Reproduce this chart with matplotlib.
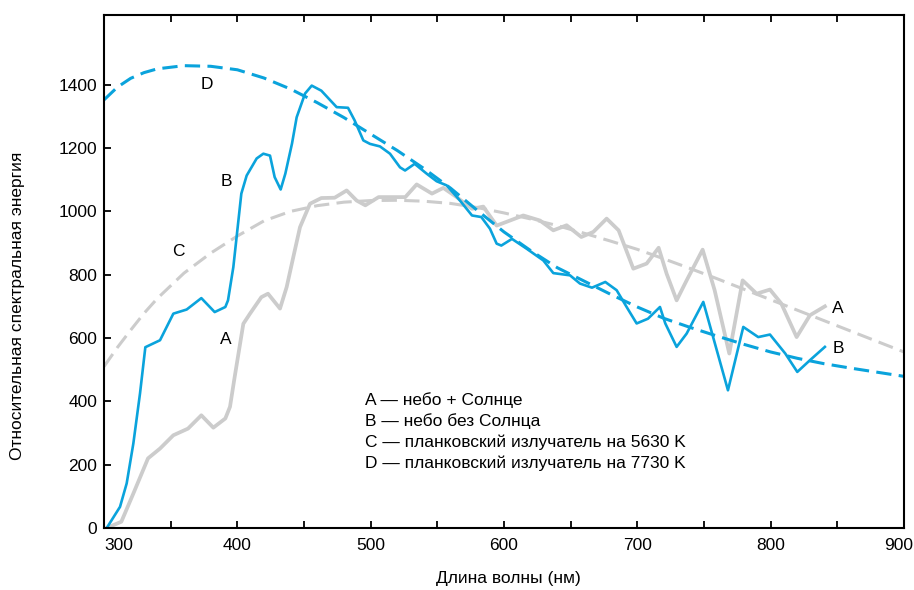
import numpy as np
import matplotlib as mpl
import matplotlib.pyplot as plt
from matplotlib.transforms import ScaledTranslation

mpl.rcParams['font.family'] = ['Liberation Sans', 'DejaVu Sans']
mpl.rcParams['font.size'] = 12.5

BLUE = '#0aa3dc'
GREY = '#cccccc'

# A - sky + Sun
a_x = [302, 313, 322, 333, 342, 352, 363, 373, 382, 391, 394.5, 398, 404.5, 409.5, 418, 423,
       432, 437, 442, 447, 454.5, 463, 473, 482, 489.5, 496, 506, 516, 526, 534.5, 546, 554.5,
       564.5, 576, 584.5, 594.5, 604.5, 614.5, 627, 637, 647, 658, 667, 677, 686, 697, 707,
       716, 722, 729.5, 737, 749, 758, 769, 779, 789.5, 799.5, 808, 819.5, 829.5, 840.7]
a_y = [0, 20, 109, 220, 251, 293, 314, 356, 317, 346, 383, 477, 645, 677, 729, 740,
       693, 761, 856, 950, 1024, 1042, 1043, 1066, 1034, 1019, 1045, 1045, 1045, 1085, 1056, 1074,
       1045, 1008, 1015, 955, 971, 987, 971, 940, 956, 919, 935, 977, 940, 819, 835,
       885, 803, 719, 782, 879, 751, 551, 782, 740, 753, 709, 603, 672, 700]

# B - sky without Sun
b_x = [302, 312, 317, 322, 327, 331, 342, 352, 362, 373, 383, 391, 393, 397, 400, 403, 407,
       414.5, 419.5, 424.5, 428, 432.5, 436, 441, 444.5, 450.8, 455.8, 463, 474.5, 483, 488,
       494.5, 499.5, 507, 514.5, 522, 525.8, 533, 542, 549.5, 557, 567, 576, 583, 589.5, 594.5,
       598, 606, 617, 629.5, 637, 649.5, 657, 666, 676, 684.5, 692, 699.5, 708, 717, 721,
       729.5, 737, 749.5, 768, 779.5, 790.7, 799.5, 811, 820, 829.5, 840.7]
b_y = [0, 67, 141, 267, 425, 571, 593, 677, 690, 726, 682, 698, 719, 824, 940, 1056, 1113,
       1167, 1182, 1176, 1108, 1069, 1119, 1214, 1297, 1372, 1397, 1381, 1329, 1327, 1287,
       1224, 1213, 1205, 1182, 1139, 1129, 1150, 1119, 1095, 1082, 1034, 987, 982, 945, 898,
       892, 913, 882, 845, 805, 798, 772, 759, 777, 751, 698, 646, 661, 698, 646,
       572, 614, 714, 435, 635, 603, 611, 551, 493, 530, 572]

# C, D - Planck radiators
pl_x = [300, 310, 320, 330, 340, 360, 380, 400, 420, 440, 460, 480, 500, 520, 540, 560, 580, 600,
        620, 640, 660, 680, 700, 720, 740, 760, 780, 800, 820, 840, 860, 880, 900]
c_y = [510, 570, 625, 678, 725, 805, 868, 922, 970, 1000, 1018, 1029, 1034, 1035, 1032, 1025, 1012, 995,
       976, 955, 931, 906, 880, 850, 819, 787, 754, 721, 688, 655, 622, 589, 556]
d_y = [1352, 1392, 1420, 1438, 1450, 1460, 1458, 1447, 1421, 1386, 1343, 1296, 1244, 1192, 1135, 1073, 1003, 935,
       876, 822, 780, 738, 698, 662, 633, 606, 580, 556, 536, 519, 505, 492, 479]

legend_lines = ['A — небо + Солнце',
                'B — небо без Солнца',
                'C — планковский излучатель на 5630 K',
                'D — планковский излучатель на 7730 K']

fig = plt.figure(figsize=(9.14, 5.9), dpi=100)
ax = fig.add_axes([0.1138, 0.105, 0.8752, 0.8696])

ax.plot(pl_x, c_y, color=GREY, lw=2.2, dashes=(5, 2.4))
ax.plot(a_x, a_y, color=GREY, lw=2.7, solid_joinstyle='round')
ax.plot(pl_x, d_y, color=BLUE, lw=2.2, dashes=(5, 2.4))
ax.plot(b_x, b_y, color=BLUE, lw=1.9, solid_joinstyle='round')

ax.set_xlim(300, 900)
ax.set_ylim(0, 1620)
ax.set_xticks(np.arange(300, 901, 100))
ax.set_xticks(np.arange(350, 900, 100), minor=True)
ax.set_yticks(np.arange(0, 1401, 200))

ax.tick_params(which='both', direction='in', length=5, width=1.3, top=True,
               right=False, pad=7)
ax.tick_params(axis='y', pad=5)
for s in ax.spines.values():
    s.set_linewidth(1.5)
xt = ax.xaxis.get_major_ticks()
xt[0].label1.set_horizontalalignment('left')
lab = xt[-1].label1
lab.set_transform(lab.get_transform() + ScaledTranslation(-5 / 100, 0, fig.dpi_scale_trans))

ax.set_xlabel('Длина волны (нм)')
ax.set_ylabel('Относительная спектральная энергия')
ax.xaxis.set_label_coords(0.505, -0.083)
ax.yaxis.set_label_coords(-0.099, 0.433)

ax.text(377, 1400, 'D', ha='center', va='center')
ax.text(392, 1094, 'B', ha='center', va='center')
ax.text(355.5, 873, 'C', ha='center', va='center')
ax.text(391.5, 596, 'A', ha='center', va='center')
ax.text(850.5, 694, 'A', ha='center', va='center')
ax.text(850.5, 568, 'B', ha='center', va='center')

for i, t in enumerate(legend_lines):
    ax.text(495.5, 404 - i * 66.5, t, ha='left', va='center')

fig.savefig('out.png', dpi=100)
